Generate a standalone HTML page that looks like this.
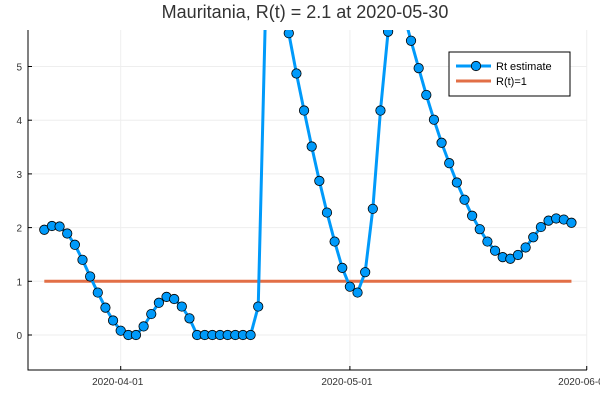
<!DOCTYPE html>
<html><head><meta charset="utf-8"><style>
body{margin:0;background:#fff;}
svg{display:block;font-family:"Liberation Sans",sans-serif;}
</style></head><body>
<svg id="chart" width="600" height="400">
<rect width="600" height="400" fill="#fff"/>
<text x="305" y="18" text-anchor="middle" font-size="18" fill="#333">Mauritania, R(t) = 2.1 at 2020-05-30</text>
<g id="grid"></g><g id="axes"></g><g id="series"></g>
<g>
<rect x="449" y="52" width="121" height="44" fill="#fff" stroke="#000" stroke-width="1"/>
<g>
<line x1="456" y1="66" x2="491" y2="66" stroke="#009AFA" stroke-width="3"/>
<circle cx="476" cy="66" r="4.7" fill="#009AFA" stroke="#000" stroke-width="0.8"/>
<text x="496" y="70" font-size="11" fill="#000">Rt estimate</text></g>
<g>
<line x1="456" y1="81" x2="491" y2="81" stroke="#E26F46" stroke-width="3"/>
<text x="496" y="85" font-size="11" fill="#000">R(t)=1</text></g>
</g>
</svg>
<script>
const dayIndex=[...Array(70).keys()];
const rtValues=[1.96,2.03,2.02,1.89,1.68,1.40,1.09,0.79,0.51,0.27,0.08,0,0,0.16,0.39,0.60,0.71,0.67,0.53,0.31,
0,0,0,0,0,0,0,0,0.53,6.3,8.0,6.5,
5.62,4.87,4.18,3.51,2.87,2.28,1.74,1.25,0.90,0.79,1.17,2.35,4.18,5.65,7.0,6.0,
5.48,4.97,4.47,4.01,3.58,3.20,2.84,2.52,2.22,1.97,1.74,1.57,1.45,1.42,1.49,1.63,1.82,2.01,2.13,2.17,2.15,2.09];
const yTicks=[0,1,2,3,4,5];
const xTickDays=[10,40,71];
const xTickLabels=["2020-04-01","2020-05-01","2020-06-01"];
const threshold=1;
const L=28,R=587,T=30,B=370;
const x=d=>44.3+d*7.64;
const y=v=>335-v*53.7;
const NS="http://www.w3.org/2000/svg";
function mk(tag,attrs,parent){const e=document.createElementNS(NS,tag);for(const k in attrs)e.setAttribute(k,attrs[k]);parent.appendChild(e);return e;}
const grid=document.getElementById('grid'),axes=document.getElementById('axes'),ser=document.getElementById('series');
yTicks.forEach(v=>{
 const g=mk('line',{x1:L,x2:R,y1:y(v),y2:y(v),stroke:'#eee','stroke-width':1},grid);
 
 
 const t=mk('text',{x:L-6,y:y(v)+4,'text-anchor':'end','font-size':10,fill:'#333'},axes);
 t.textContent=v;
 
 
 mk('line',{x1:L,x2:L+4,y1:y(v),y2:y(v),stroke:'#000'},axes);
});
xTickDays.forEach((d,i)=>{
 const g=mk('line',{x1:x(d),x2:x(d),y1:T,y2:B,stroke:'#eee','stroke-width':1},grid);
 
 
 const t=mk('text',{x:x(d)-3,y:B+15,'text-anchor':'middle','font-size':10,fill:'#333'},axes);
 t.textContent=xTickLabels[i];
 
 
 mk('line',{x1:x(d),x2:x(d),y1:B,y2:B-4,stroke:'#000'},axes);
});
const ax=mk('path',{d:`M${L},${T}V${B}H${R}`,fill:'none',stroke:'#000','stroke-width':1},axes);


const clip=mk('clipPath',{id:'pc'},ser);mk('rect',{x:L,y:T,width:R-L,height:B-T},clip);
const thr=mk('line',{x1:x(dayIndex[0]),x2:x(dayIndex[dayIndex.length-1]),y1:y(threshold),y2:y(threshold),stroke:'#E26F46','stroke-width':3,'clip-path':'url(#pc)'},ser);


const pl=mk('polyline',{points:dayIndex.map(d=>x(d)+','+y(rtValues[d])).join(' '),fill:'none',stroke:'#009AFA','stroke-width':3,'clip-path':'url(#pc)'},ser);


dayIndex.forEach(d=>{
 const c=mk('circle',{cx:x(d),cy:y(rtValues[d]),r:4.7,fill:'#009AFA',stroke:'#000','stroke-width':0.8,'clip-path':'url(#pc)'},ser);
 
 
});
</script>
</body></html>
